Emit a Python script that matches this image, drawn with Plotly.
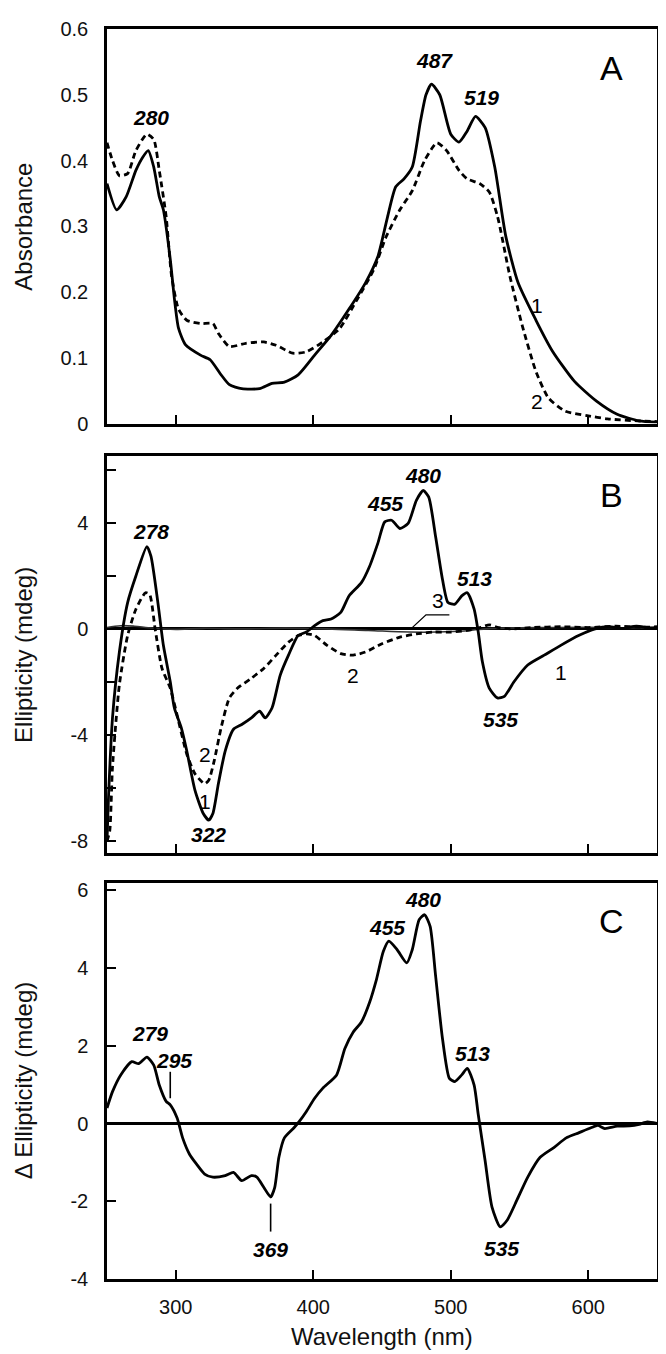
import plotly.graph_objects as go

# ---------------- Panel A : absorbance ----------------
a1_x = [250, 257, 264, 271, 276, 280, 284, 288, 291, 296, 299, 302, 307, 318, 325, 333, 339, 348, 361, 370,
        379, 389, 401, 413, 426, 438, 447, 454, 460, 466, 472, 478, 482, 486, 492, 500, 506, 512, 518,
        525, 532, 540, 549, 562, 574, 590, 606, 621, 637, 650]
a1_y = [0.365, 0.325, 0.345, 0.385, 0.405, 0.415, 0.39, 0.345, 0.325, 0.25, 0.19, 0.145, 0.12, 0.104, 0.097,
        0.074, 0.059, 0.053, 0.053, 0.061, 0.063, 0.074, 0.104, 0.134, 0.174, 0.214, 0.254, 0.314, 0.36,
        0.372, 0.39, 0.46, 0.5, 0.516, 0.5, 0.44, 0.428, 0.445, 0.467, 0.45, 0.39, 0.285, 0.214, 0.157,
        0.11, 0.064, 0.034, 0.014, 0.004, 0.002]

a2_x = [250, 254, 259, 265, 271, 279, 284, 288, 293, 297, 302, 308, 318, 327, 331, 339, 351, 364, 373, 385,
        395, 407, 419, 432, 444, 453, 463, 472, 481, 490, 497, 506, 512, 521, 528, 534, 543, 552, 562,
        571, 583, 599, 614, 636, 650]
a2_y = [0.427, 0.4, 0.377, 0.38, 0.415, 0.44, 0.432, 0.385, 0.315, 0.224, 0.174, 0.157, 0.152, 0.152, 0.137,
        0.117, 0.122, 0.124, 0.119, 0.107, 0.109, 0.124, 0.144, 0.189, 0.234, 0.284, 0.325, 0.354, 0.4,
        0.427, 0.415, 0.385, 0.372, 0.365, 0.352, 0.315, 0.224, 0.149, 0.079, 0.039, 0.019, 0.012,
        0.007, 0.004, 0.003]

# ---------------- Panel B : CD spectra ----------------
b1_x = [250, 251, 254, 259, 265, 271, 279, 282, 287, 291, 296, 299, 304, 308, 314, 320, 324, 327, 331, 336,
        342, 348, 355, 361, 365, 370, 376, 382, 389, 395, 401, 407, 413, 420, 426, 435, 441, 447, 452,
        457, 463, 469, 475, 480, 484, 489, 494, 498, 503, 508, 512, 517, 520, 523, 528, 534, 539, 546,
        556, 568, 580, 593, 605, 615, 625, 635, 645, 650]
b1_y = [-8.0, -6.45, -3.35, -0.87, 0.99, 1.99, 3.1, 2.73, 0.99, -0.62, -1.99, -2.98, -3.72, -4.59, -6.08,
        -6.95, -7.2, -6.95, -5.83, -4.59, -3.78, -3.6, -3.35, -3.1, -3.35, -2.98, -1.74, -0.99, -0.25,
        -0.12, 0.12, 0.31, 0.37, 0.62, 1.24, 1.74, 2.36, 3.23, 4.03, 4.09, 3.78, 3.97, 4.84, 5.21, 4.96,
        3.47, 1.86, 0.99, 0.93, 1.24, 1.36, 0.74, -0.12, -1.24, -2.23, -2.6, -2.54, -1.99, -1.36, -0.99,
        -0.62, -0.25, 0.0, 0.08, 0.02, 0.1, 0.04, 0.06]

b2_x = [250, 252, 254, 259, 265, 271, 278, 281, 285, 290, 296, 302, 308, 314, 321, 324, 328, 333, 339, 345,
        355, 364, 373, 382, 389, 395, 401, 410, 420, 429, 438, 450, 463, 475, 488, 500, 512, 522, 528,
        534, 543, 560, 580, 600, 620, 640, 650]
b2_y = [-8.0, -7.6, -5.2, -2.1, -0.25, 0.74, 1.36, 1.3, 0.0, -1.49, -2.23, -3.47, -4.71, -5.46, -5.83, -5.7,
        -4.96, -3.72, -2.6, -2.23, -1.86, -1.49, -0.99, -0.5, -0.25, -0.19, -0.25, -0.62, -0.93, -0.99,
        -0.87, -0.56, -0.31, -0.19, -0.12, -0.12, -0.06, 0.06, 0.15, 0.06, 0.0, 0.05, 0.08, 0.05, 0.1,
        0.06, 0.08]

b3_x = [250, 260, 270, 280, 290, 300, 320, 350, 380, 410, 440, 470, 490, 510, 520, 540, 570, 600, 630, 650]
b3_y = [0.05, 0.12, 0.1, 0.04, 0.0, -0.02, 0.02, 0.0, 0.03, 0.0, -0.06, -0.12, -0.12, -0.08, -0.02, 0.03,
        0.05, 0.06, 0.04, 0.05]

# ---------------- Panel C : difference CD ----------------
c_x = [250, 254, 260, 268, 273, 279, 284, 288, 293, 296, 301, 305, 310, 315, 321, 327, 336, 342, 348, 355,
       359, 364, 369, 372, 375, 379, 386, 390, 395, 401, 407, 417, 423, 429, 435, 441, 446, 451, 455,
       461, 468, 472, 477, 481, 485, 489, 494, 499, 503, 508, 512, 517, 520, 525, 530, 536, 541, 548,
       556, 565, 575, 584, 593, 602, 607, 612, 621, 630, 637, 643, 650]
c_y = [0.4, 0.82, 1.25, 1.59, 1.54, 1.71, 1.5, 0.99, 0.57, 0.48, 0.14, -0.37, -0.79, -1.04, -1.3, -1.38,
       -1.34, -1.26, -1.47, -1.34, -1.38, -1.64, -1.89, -1.64, -0.87, -0.37, -0.11, 0.06, 0.31, 0.65,
       0.91, 1.25, 1.93, 2.35, 2.61, 3.12, 3.71, 4.43, 4.69, 4.47, 4.13, 4.47, 5.24, 5.37, 5.07, 3.79,
       2.18, 1.16, 1.08, 1.25, 1.42, 0.99, 0.23, -0.96, -2.15, -2.66, -2.49, -1.98, -1.38, -0.87, -0.62,
       -0.37, -0.24, -0.11, -0.05, -0.13, -0.07, -0.06, -0.02, 0.04, 0.0]

# ---------------- labels ----------------
A_peaks = [("280", 282, 0.465), ("487", 488.5, 0.552), ("519", 522.5, 0.496)]
A_nums = [("1", 563, 0.179), ("2", 563, 0.034)]
B_peaks = [("278", 282, 3.66), ("322", 324, -7.75), ("455", 452, 4.71), ("480", 480, 5.77),
           ("513", 517, 1.89), ("535", 536, -3.41)]
B_nums = [("1", 321.5, -6.5), ("2", 321.5, -4.72), ("2", 429, -1.74), ("1", 580, -1.64), ("3", 491, 1.05)]
B_leader_x = [499, 482, 471]
B_leader_y = [0.53, 0.53, 0.0]
C_peaks = [("279", 281, 2.31), ("295", 299, 1.63), ("369", 369, -3.25), ("455", 453.5, 5.03),
           ("480", 480, 5.75), ("513", 515.5, 1.8), ("535", 537, -3.21)]
C_mark295_x = [296, 296]
C_mark295_y = [1.33, 0.65]
C_mark369_x = [369, 369]
C_mark369_y = [-2.06, -2.78]

x_ticks = [300, 400, 500, 600]
A_ticks = [0, 0.1, 0.2, 0.3, 0.4, 0.5, 0.6]
A_ticktext = ["0", "0.1", "0.2", "0.3", "0.4", "0.5", "0.6"]
B_ticks = [-8, -6, -4, -2, 0, 2, 4, 6]
B_ticktext = ["-8", "", "-4", "", "0", "", "4", ""]
C_ticks = [-4, -2, 0, 2, 4, 6]
C_ticktext = ["-4", "-2", "0", "2", "4", "6"]

FONT = "Liberation Sans, Arial, sans-serif"
LW = 2.8

fig = go.Figure()
line_solid = dict(color="black", width=LW, shape="spline", smoothing=0.6)
line_dash = dict(color="black", width=LW, shape="spline", smoothing=0.6, dash="6px,4px")

fig.add_trace(go.Scatter(x=a2_x, y=a2_y, mode="lines", line=line_dash, xaxis="x", yaxis="y"))
fig.add_trace(go.Scatter(x=a1_x, y=a1_y, mode="lines", line=line_solid, xaxis="x", yaxis="y"))

fig.add_trace(go.Scatter(x=b3_x, y=b3_y, mode="lines", line=dict(color="#333", width=1.6, shape="spline"),
                         xaxis="x2", yaxis="y2"))
fig.add_trace(go.Scatter(x=b2_x, y=b2_y, mode="lines", line=line_dash, xaxis="x2", yaxis="y2"))
fig.add_trace(go.Scatter(x=b1_x, y=b1_y, mode="lines", line=line_solid, xaxis="x2", yaxis="y2"))
fig.add_trace(go.Scatter(x=B_leader_x, y=B_leader_y, mode="lines", line=dict(color="black", width=1.3),
                         xaxis="x2", yaxis="y2"))

fig.add_trace(go.Scatter(x=c_x, y=c_y, mode="lines", line=line_solid, xaxis="x3", yaxis="y3"))
fig.add_trace(go.Scatter(x=C_mark295_x, y=C_mark295_y, mode="lines", line=dict(color="black", width=1.6),
                         xaxis="x3", yaxis="y3"))
fig.add_trace(go.Scatter(x=C_mark369_x, y=C_mark369_y, mode="lines", line=dict(color="black", width=1.6),
                         xaxis="x3", yaxis="y3"))

ann = []
def peak(lbl, x, y, ax):
    ann.append(dict(text="<b><i>%s</i></b>" % lbl, x=x, y=y, xref="x" + ax, yref="y" + ax,
                    showarrow=False, font=dict(family=FONT, size=21, color="black")))
def num(lbl, x, y, ax):
    ann.append(dict(text=lbl, x=x, y=y, xref="x" + ax, yref="y" + ax,
                    showarrow=False, font=dict(family=FONT, size=21, color="black")))

for t in A_peaks: peak(*t, "")
for t in A_nums: num(*t, "")
for t in B_peaks: peak(*t, "2")
for t in B_nums: num(*t, "2")
for t in C_peaks: peak(*t, "3")

PLOT_H = 1261
domA = [0.6844, 1.0]
domB = [0.3410, 0.6582]
domC = [0.0, 0.3172]

for lbl, dom in (("A", domA), ("B", domB), ("C", domC)):
    ann.append(dict(text=lbl, x=0.917, y=dom[1] - 39 / PLOT_H, xref="paper",
                    yref="paper", showarrow=False, xanchor="center", yanchor="middle",
                    font=dict(family=FONT, size=34, color="black")))

titles = [("Absorbance", domA), ("Ellipticity (mdeg)", domB), ("\u0394 Ellipticity (mdeg)", domC)]
for t, dom in titles:
    ann.append(dict(text=t, x=-0.152, y=(dom[0] + dom[1]) / 2, xref="paper", yref="paper",
                    textangle=-90, showarrow=False, xanchor="center", yanchor="middle", borderpad=0,
                    font=dict(family=FONT, size=24, color="#111")))

ann.append(dict(text="Wavelength (nm)", x=0.5, y=-58 / PLOT_H, xref="paper", yref="paper",
                showarrow=False, xanchor="center", yanchor="middle",
                font=dict(family=FONT, size=24, color="#111")))

axis_common = dict(showline=True, mirror=True, linecolor="black", linewidth=2.5, showgrid=False,
                   zeroline=False, ticks="inside", ticklen=9, tickwidth=2, tickcolor="black",
                   tickfont=dict(family=FONT, size=20, color="#111"))

xa = dict(axis_common, range=[250, 650], tickvals=x_ticks)
fig.update_layout(
    width=666, height=1354,
    margin=dict(l=99, r=17, t=10, b=83),
    paper_bgcolor="white", plot_bgcolor="white",
    showlegend=False,
    annotations=ann,
    xaxis=dict(xa, anchor="y", showticklabels=False),
    xaxis2=dict(xa, anchor="y2", showticklabels=False),
    xaxis3=dict(xa, anchor="y3", showticklabels=True, ticklabelstandoff=8),
    yaxis=dict(axis_common, domain=domA, range=[0, 0.6], tickvals=A_ticks, ticktext=A_ticktext,
               ticks="", ticklabelstandoff=12),
    yaxis2=dict(axis_common, domain=domB, range=[-8.43, 6.5], tickvals=B_ticks, ticktext=B_ticktext,
                zeroline=True, zerolinecolor="black", zerolinewidth=2.8, ticklabelstandoff=12),
    yaxis3=dict(axis_common, domain=domC, range=[-4, 6.2], tickvals=C_ticks, ticktext=C_ticktext,
                zeroline=True, zerolinecolor="black", zerolinewidth=2.8, ticklabelstandoff=12),
)

fig.write_html("out.html")
